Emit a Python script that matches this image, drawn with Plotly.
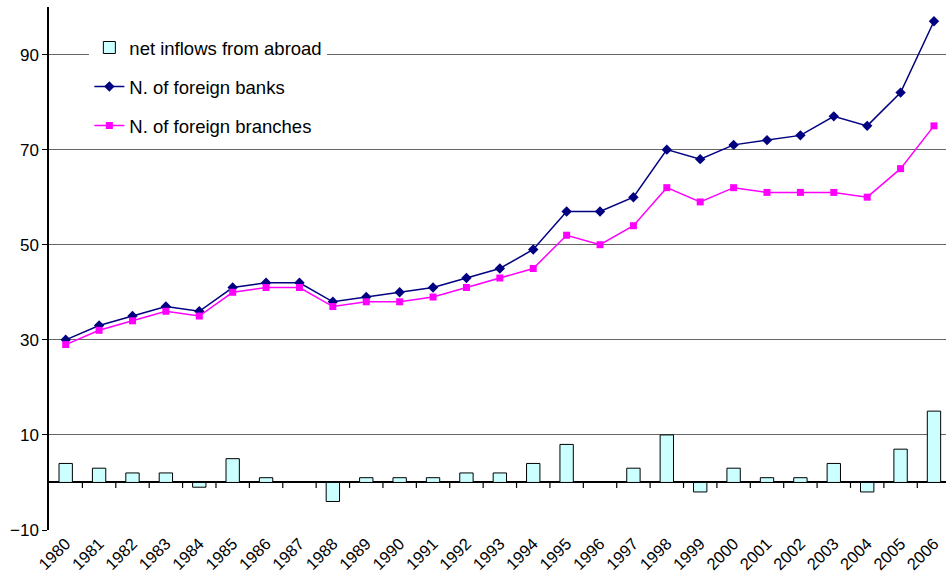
import plotly.graph_objects as go

years = [str(y) for y in range(1980, 2007)]
net_inflows = [4, 3, 2, 2, -1, 5, 1, 0, -4, 1, 1, 1, 2, 2, 4, 8, 0, 3, 10, -2, 3, 1, 1, 4, -2, 7, 15]
foreign_banks = [30, 33, 35, 37, 36, 41, 42, 42, 38, 39, 40, 41, 43, 45, 49, 57, 57, 60, 70, 68, 71, 72, 73, 77, 75, 82, 97]
foreign_branches = [29, 32, 34, 36, 35, 40, 41, 41, 37, 38, 38, 39, 41, 43, 45, 52, 50, 54, 62, 59, 62, 61, 61, 61, 60, 66, 75]
y_ticks = [-10, 10, 30, 50, 70, 90]

FONT = "Liberation Sans, Arial, sans-serif"
Y_MIN, Y_MAX = -10, 100
X_RANGE = [-0.5, 26.36]

# years are placed at integer positions; labels come from ticktext
pos = list(range(len(years)))
TICK_DEPTH = 1.15  # length of the tick marks below the zero line, in data units

# vertical tick segments between neighbouring years, separated by gaps
tick_x, tick_y = [], []
for p in pos:
    tick_x += [p + 0.5, p + 0.5, None]
    tick_y += [0, -TICK_DEPTH, None]

fig = go.Figure()
fig.add_trace(go.Bar(
    x=pos, y=net_inflows, name="net inflows from abroad",
    marker=dict(color="#CCFFFF", line=dict(color="black", width=1)),
    width=0.4, legendgroup="a",
))
fig.add_trace(go.Scatter(
    x=pos, y=foreign_banks, name="N. of foreign banks", mode="lines+markers",
    line=dict(color="#000080", width=1.5),
    marker=dict(symbol="diamond", size=8, color="#000080"),
    legendgroup="b",
))
fig.add_trace(go.Scatter(
    x=pos, y=foreign_branches, name="N. of foreign branches", mode="lines+markers",
    line=dict(color="#FF00FF", width=1.5),
    marker=dict(symbol="square", size=7, color="#FF00FF"),
    legendgroup="c",
))
fig.add_trace(go.Scatter(
    x=tick_x, y=tick_y, mode="lines", connectgaps=False,
    line=dict(color="black", width=1.2),
    showlegend=False, hoverinfo="skip",
))

fig.update_layout(
    width=946, height=585,
    margin=dict(l=49, r=0, t=7, b=55),
    paper_bgcolor="white", plot_bgcolor="white",
    font=dict(family=FONT, size=16, color="black"),
    showlegend=True,
    legend=dict(
        x=0.045, y=0.958, xanchor="left", yanchor="top",
        bgcolor="white", borderwidth=0,
        font=dict(family=FONT, size=18.5, color="black"),
        tracegroupgap=12, traceorder="grouped",
    ),
    xaxis=dict(
        range=X_RANGE, tickvals=pos, ticktext=years,
        showgrid=False, zeroline=False, showline=False, ticks="",
        tickangle=-45, tickfont=dict(family=FONT, size=16.5),
    ),
    yaxis=dict(
        range=[Y_MIN, Y_MAX], tickvals=y_ticks,
        showgrid=True, gridcolor="#666666", gridwidth=1,
        zeroline=True, zerolinecolor="black", zerolinewidth=1.5,
        showline=True, linecolor="black", linewidth=1.5,
        ticks="outside", ticklen=5, tickcolor="black",
        tickfont=dict(family=FONT, size=17),
    ),
)

fig.write_html("out.html")
